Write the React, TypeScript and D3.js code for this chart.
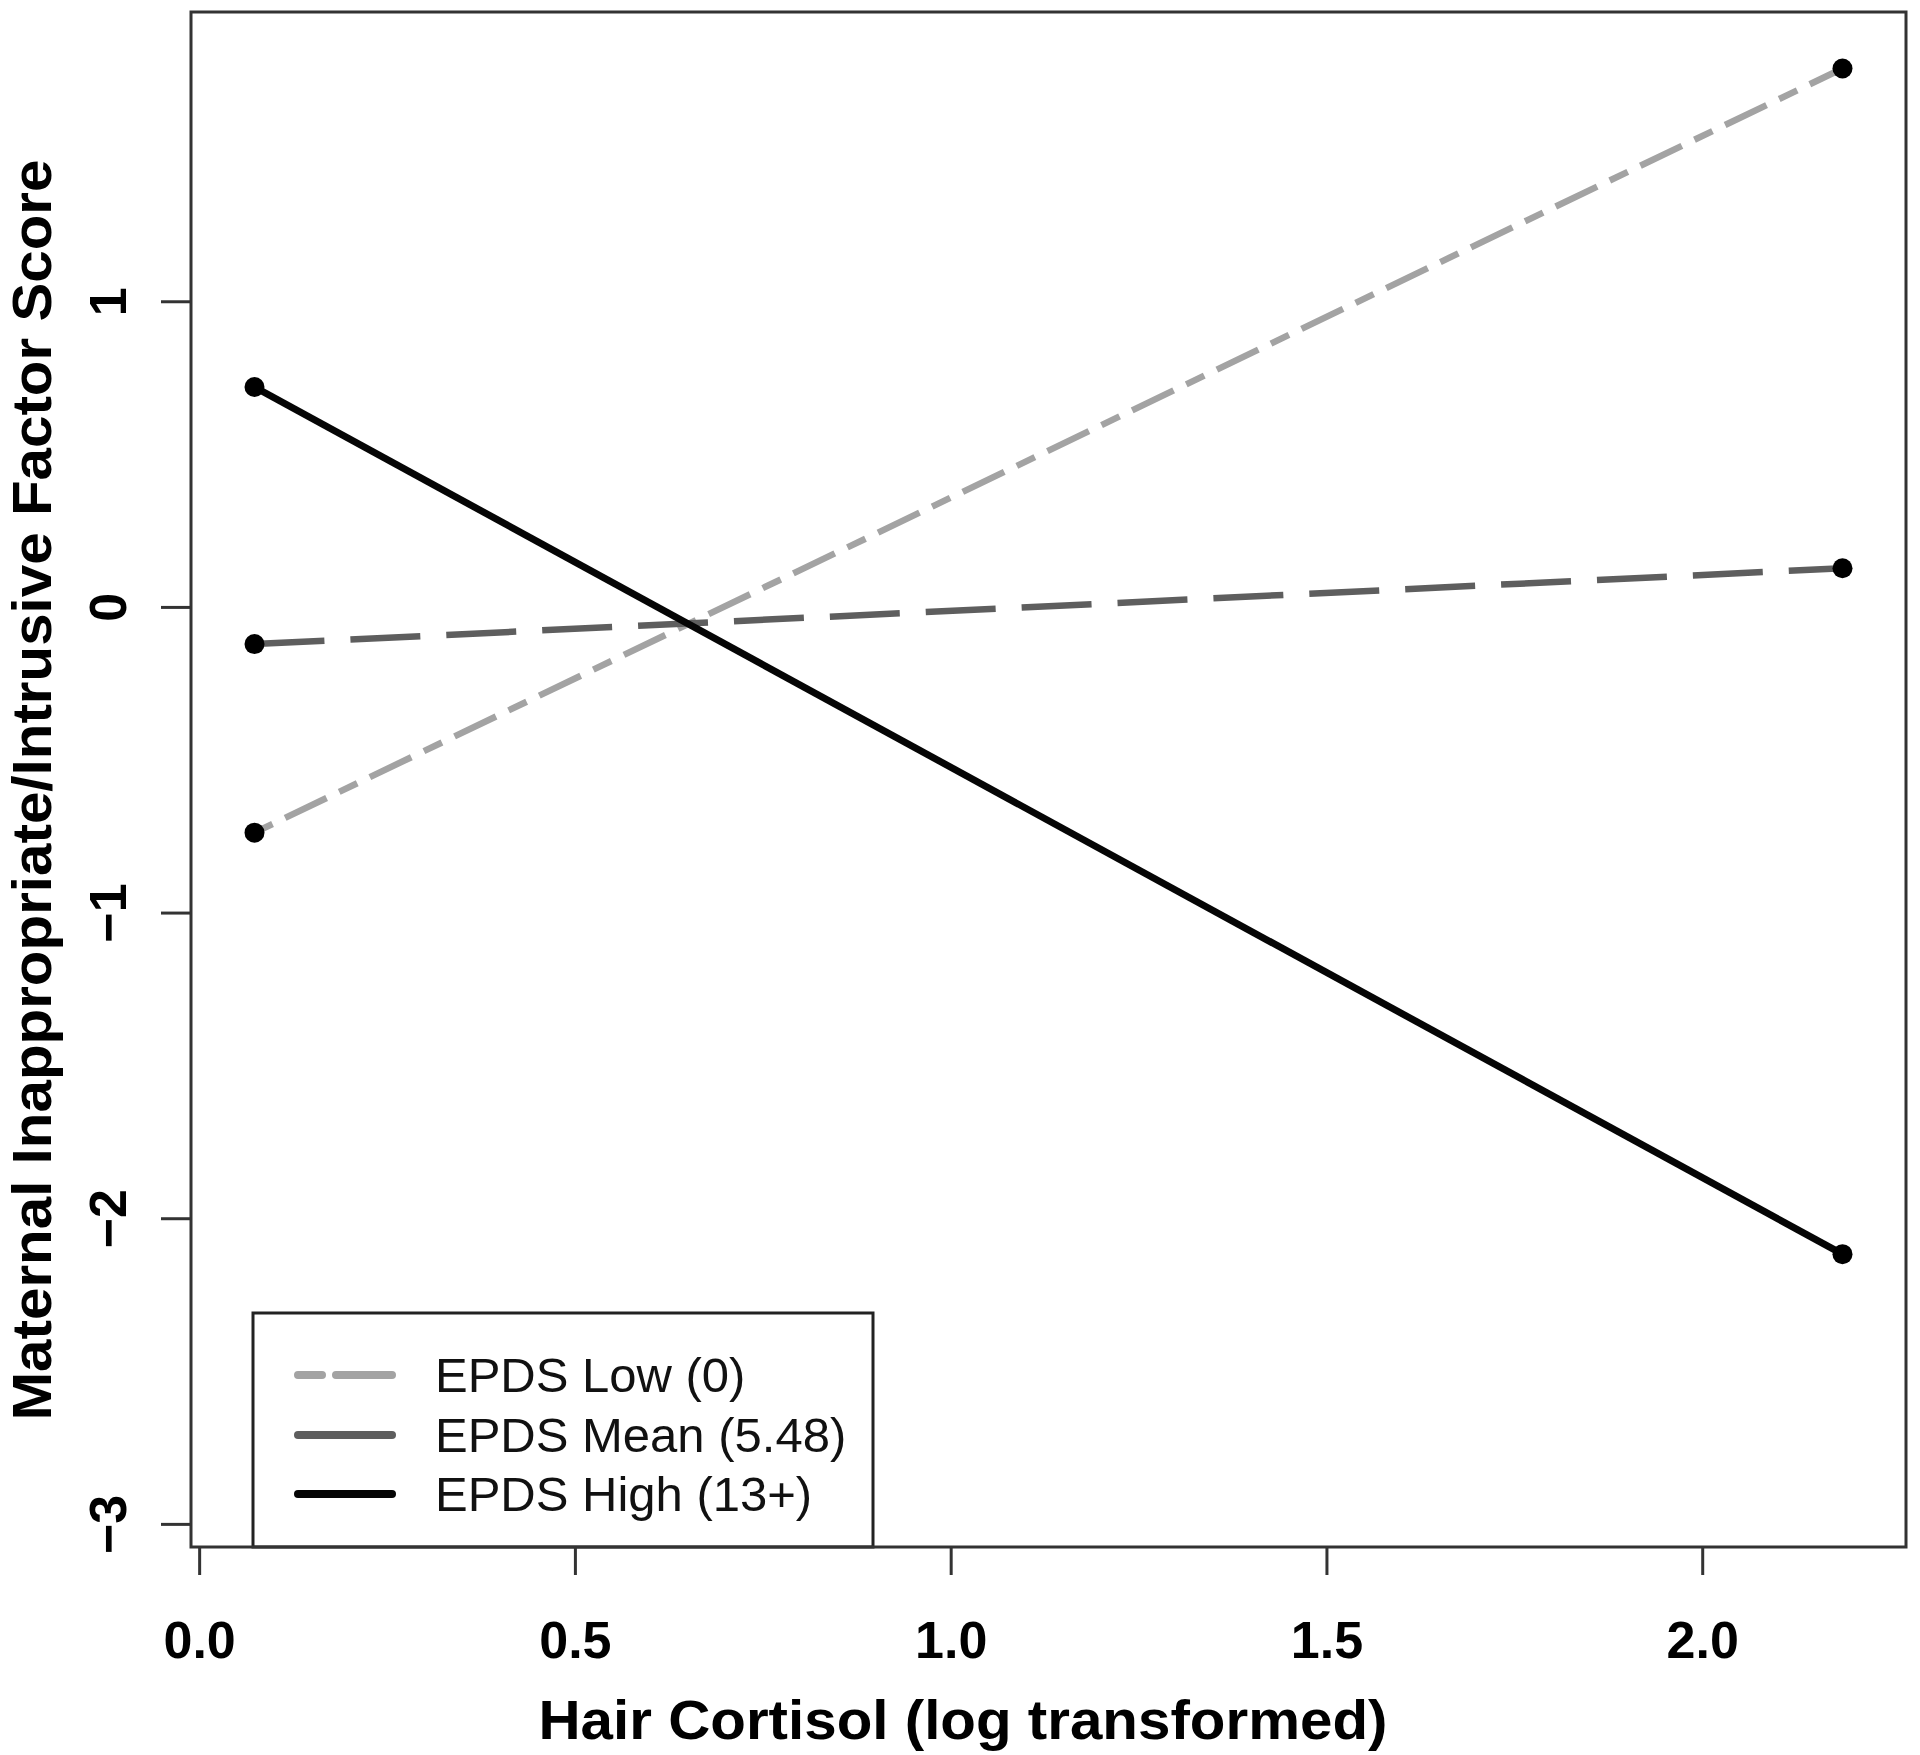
import React, { useEffect } from 'react';
import * as d3 from 'd3';

// cortisol values at the two ends of each line
const xValues = [0.073, 2.186];
const lowValues = [-0.737, 1.763];
const meanValues = [-0.12, 0.128];
const highValues = [0.721, -2.116];

const xTicks = [0, 0.5, 1, 1.5, 2];
const xTickLabels = ['0.0', '0.5', '1.0', '1.5', '2.0'];
const yTicks = [-3, -2, -1, 0, 1];
const yTickLabels = ['\u22123', '\u22122', '\u22121', '0', '1'];

const seriesNames = ['EPDS Low (0)', 'EPDS Mean (5.48)', 'EPDS High (13+)'];
const seriesValues = [lowValues, meanValues, highValues];
const seriesColors = ['#a3a3a3', '#5e5e5e', '#050505'];
const seriesDash = ['20,14,46,14', '70,26', 'none'];

const W = 1920;
const H = 1755;
const FONT = '"Liberation Sans", Arial, Helvetica, sans-serif';

export default function App() {
  useEffect(() => {
    document.body.style.margin = '0';
  }, []);

  const x = d3.scaleLinear().domain([-0.0115, 2.2705]).range([191, 1906]);
  const y = d3.scaleLinear().domain([-3.074, 1.948]).range([1547, 12]);

  const line = d3.line<number>()
    .x((d, i) => x(xValues[i]))
    .y(d => y(d));

  const [x0, x1] = x.range();
  const [yb, yt] = y.range();

  // legend box
  const lg = { x: 253, y: 1313, w: 620, h: yb - 1313 };
  const lgRows = [1375, 1435, 1494];

  return (
    <svg width={W} height={H} style={{ display: 'block', background: '#fff' }} fontFamily={FONT}>
      {/* series lines */}
      {seriesValues.map((vals, i) => (
        <path key={'l' + i} d={line(vals) || ''} fill="none"
          stroke={seriesColors[i]} strokeWidth={i === 2 ? 7 : 6.5}
          strokeDasharray={seriesDash[i]} strokeLinecap="butt" />
      ))}
      {/* endpoint markers */}
      {seriesValues.map((vals, i) => vals.map((v, j) => (
        <circle key={'p' + i + '-' + j} cx={x(xValues[j])} cy={y(v)} r={10} fill="#000" />
      )))}

      {/* legend */}
      <rect x={lg.x} y={lg.y} width={lg.w} height={lg.h} fill="#fff" stroke="#222" strokeWidth={3} />
      {seriesNames.map((name, i) => (
        <g key={'lg' + i}>
          <line x1={298} x2={392} y1={lgRows[i]} y2={lgRows[i]}
            stroke={seriesColors[i]} strokeWidth={8}
            strokeDasharray={i === 0 ? '24,14,56,10' : 'none'} strokeLinecap="round" />
          <text x={435} y={lgRows[i] + 17} fontSize={49} fill="#111">{name}</text>
        </g>
      ))}

      {/* plot box */}
      <rect x={x0} y={yt} width={x1 - x0} height={yb - yt} fill="none" stroke="#333" strokeWidth={3} />

      {/* x axis */}
      {xTicks.map((t, i) => (
        <g key={'xt' + i}>
          <line x1={x(t)} x2={x(t)} y1={yb} y2={yb + 28} stroke="#333" strokeWidth={3} />
          <text x={x(t)} y={1658} textAnchor="middle" fontSize={52} fontWeight="bold" fill="#000">
            {xTickLabels[i]}
          </text>
        </g>
      ))}
      <text x={963} y={1739} textAnchor="middle" fontSize={56} fontWeight="bold" fill="#000"
        textLength={849} lengthAdjust="spacingAndGlyphs">
        Hair Cortisol (log transformed)
      </text>

      {/* y axis */}
      {yTicks.map((t, i) => (
        <g key={'yt' + i}>
          <line x1={x0 - 30} x2={x0} y1={y(t)} y2={y(t)} stroke="#333" strokeWidth={3} />
          <text transform={`translate(126,${y(t)}) rotate(-90)`} textAnchor="middle"
            fontSize={52} fontWeight="bold" fill="#000">
            {yTickLabels[i]}
          </text>
        </g>
      ))}
      <text transform="translate(51,790) rotate(-90)" textAnchor="middle"
        fontSize={55} fontWeight="bold" fill="#000"
        textLength={1261} lengthAdjust="spacingAndGlyphs">
        Maternal Inappropriate/Intrusive Factor Score
      </text>
    </svg>
  );
}
